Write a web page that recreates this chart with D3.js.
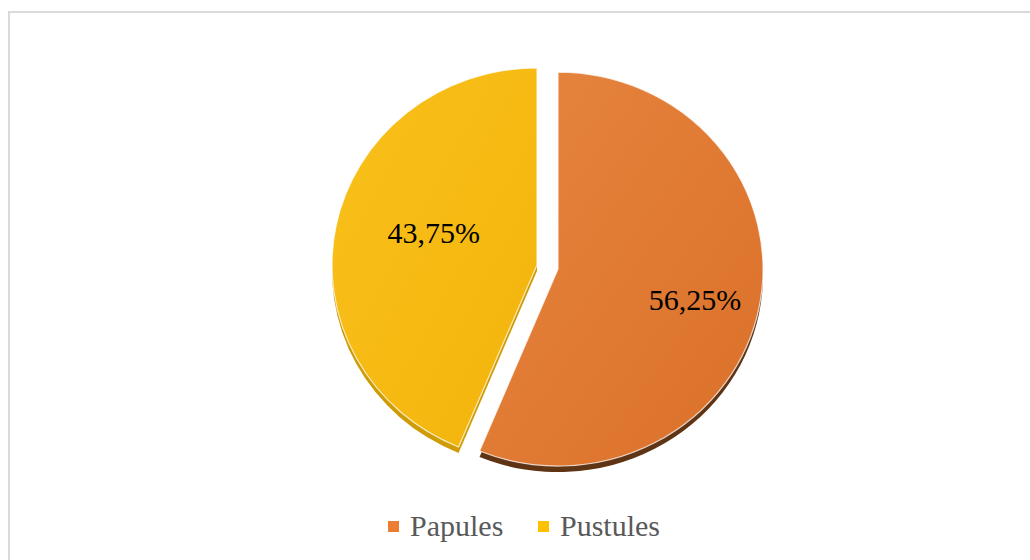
<!DOCTYPE html>
<html>
<head>
<meta charset="utf-8">
<script src="https://cdn.jsdelivr.net/npm/d3@7"></script>
<style>
  html, body { margin: 0; padding: 0; background: #ffffff; }
  #wrap { position: relative; width: 1030px; height: 560px; overflow: hidden; }
  #chart { position: absolute; left: 0; top: 0; display: block; }
  .lbl {
    position: absolute;
    font-family: "Liberation Serif", "Tinos", "Times New Roman", serif;
    font-size: 30px;
    line-height: 30px;
    white-space: nowrap;
  }
</style>
</head>
<body>
<div id="wrap">
  <svg id="chart" width="1030" height="560"></svg>
</div>
<script>
// Lesion types and their shares (%)
const categories = ["Papules", "Pustules"];
const values = [56.25, 43.75];
const valueLabels = ["56,25%", "43,75%"];

// Slice styling
const faceTop = ["#E6853F", "#F9C11B"];
const faceBottom = ["#DB7029", "#F3B40B"];
const sideColor = ["#5F3414", "#CF9C06"];
const legendColor = ["#ED7D31", "#FFC000"];
const labelRadiusFrac = [0.686, 0.53];
const labelAngleShift = [1.8, 6.8]; // degrees, clockwise

const wrap = d3.select("#wrap");
const svg = d3.select("#chart");
const W = 1030, H = 560;

// Frame around the chart area
svg.append("rect")
  .attr("x", 9).attr("y", 12)
  .attr("width", W + 20).attr("height", H + 20)
  .attr("fill", "none")
  .attr("stroke", "#d9d9d9")
  .attr("stroke-width", 2);

const cx = 547.5, cy = 267;
const rx = 205, ry = 197;
const squash = ry / rx;
const explode = 10.7;
const depth = 6;
const baselineOffset = 25; // distance from line-box top to text baseline

const defs = svg.append("defs");
categories.forEach((c, i) => {
  const g = defs.append("linearGradient")
    .attr("id", "face" + i)
    .attr("x1", "0").attr("y1", "0").attr("x2", "1").attr("y2", "1");
  g.append("stop").attr("offset", "0%").attr("stop-color", faceTop[i]);
  g.append("stop").attr("offset", "100%").attr("stop-color", faceBottom[i]);
});

const pie = d3.pie().sort(null).value(d => d.value);
const slices = pie(categories.map((c, i) => ({ name: c, value: values[i], i })));

const arc = d3.arc().innerRadius(0).outerRadius(rx);

const sliceG = svg.selectAll("g.slice")
  .data(slices)
  .join("g")
  .attr("class", "slice")
  .attr("transform", d => {
    const mid = (d.startAngle + d.endAngle) / 2;
    const dx = Math.sin(mid) * explode;
    const dy = -Math.cos(mid) * explode;
    return `translate(${cx + dx},${cy + dy})`;
  });

// Extruded side (visible below the top face)
sliceG.append("path")
  .attr("transform", `translate(0,${depth}) scale(1,${squash})`)
  .attr("d", arc)
  .attr("fill", d => sideColor[d.data.i]);

// Top face
sliceG.append("path")
  .attr("transform", `scale(1,${squash})`)
  .attr("d", arc)
  .attr("fill", d => `url(#face${d.data.i})`)
  .attr("stroke", "rgba(255,255,255,0.75)")
  .attr("stroke-width", 1.2);

// Value labels inside the slices
function labelPos(d) {
  const mid = (d.startAngle + d.endAngle) / 2;
  const a = mid + labelAngleShift[d.data.i] * Math.PI / 180;
  const r = rx * labelRadiusFrac[d.data.i];
  return [
    cx + Math.sin(mid) * explode + Math.sin(a) * r,
    cy - Math.cos(mid) * explode - Math.cos(a) * r * squash + 10
  ];
}

wrap.selectAll("div.value")
  .data(slices)
  .join("div")
  .attr("class", "lbl value")
  .style("left", d => labelPos(d)[0] + "px")
  .style("top", d => (labelPos(d)[1] - baselineOffset) + "px")
  .style("transform", "translateX(-50%)")
  .style("color", "#000000")
  .text(d => valueLabels[d.data.i]);

// Legend
const legendX = [388, 538];
svg.selectAll("rect.swatch")
  .data(categories)
  .join("rect")
  .attr("class", "swatch")
  .attr("x", (d, i) => legendX[i]).attr("y", 521)
  .attr("width", 11).attr("height", 11)
  .attr("fill", (d, i) => legendColor[i]);

wrap.selectAll("div.legend")
  .data(categories)
  .join("div")
  .attr("class", "lbl legend")
  .style("left", (d, i) => (legendX[i] + 22) + "px")
  .style("top", (535.5 - baselineOffset) + "px")
  .style("color", "#595959")
  .text(d => d);
</script>
</body>
</html>
